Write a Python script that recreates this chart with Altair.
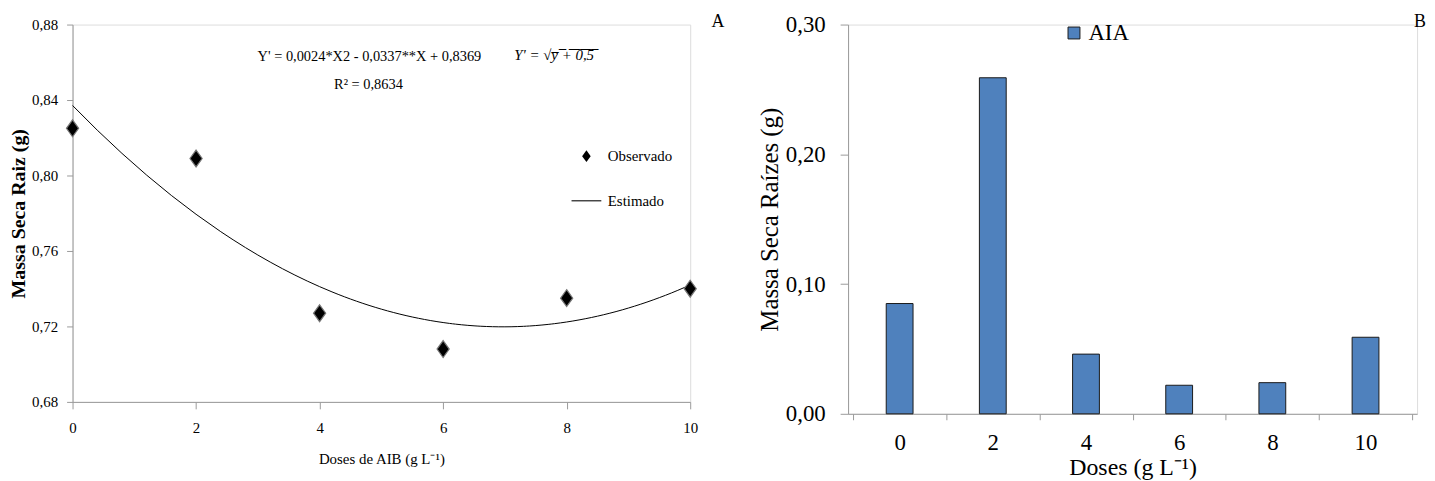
import altair as alt
import pandas as pd

FONT = "Liberation Serif"

# ---------------- Panel A (AIB) ----------------
doses_a = [0, 2, 4, 6, 8, 10]
massa_a = [0.825, 0.809, 0.727, 0.708, 0.735, 0.740]
x_ticks_a = [0, 2, 4, 6, 8, 10]
y_ticks_a = [0.68, 0.72, 0.76, 0.80, 0.84, 0.88]
legend_a = ["Observado", "Estimado"]
eq_line1 = ["Y' = 0,0024*X2 - 0,0337**X + 0,8369"]
eq_line2 = ["R² = 0,8634"]
eq_transf = ["Y' = √y̅ ̅+̅ ̅0̅,̅5̅"]

# ---------------- Panel B (AIA) ----------------
doses_b = [0, 2, 4, 6, 8, 10]
massa_b = [0.085, 0.259, 0.046, 0.022, 0.024, 0.059]
x_ticks_b = [-1, 0, 1, 2, 3, 4, 5, 6, 7, 8, 9, 10, 11]
y_ticks_b = [0.0, 0.10, 0.20, 0.30]
series_b = ["AIA"]
panel_labels = ["A", "B"]

comma2 = "replace(format(datum.value, '.2f'), '.', ',')"
DIAMOND = "M0,-1L0.72,0L0,1L-0.72,0Z"
LINE = "M-2.5,-0.09L2.5,-0.09L2.5,0.09L-2.5,0.09Z"
AXC = "#9a9a9a"

dfa = pd.DataFrame({"dose": doses_a, "massa": massa_a, "serie": legend_a[0]})

xa = alt.X(
    "dose:Q",
    scale=alt.Scale(domain=[0, 10], nice=False, zero=False),
    axis=alt.Axis(
        values=x_ticks_a, title="Doses de AIB (g L⁻¹)", grid=False,
        labelFont=FONT, labelFontSize=15, labelColor="black", labelFlush=False,
        labelOverlap=False, labelPadding=12, tickSize=7, tickColor=AXC,
        domainColor=AXC, titleFont=FONT, titleFontSize=15, titleFontWeight="normal",
        titleColor="black", titlePadding=16,
    ),
)
ya = alt.Y(
    "massa:Q",
    scale=alt.Scale(domain=[0.68, 0.88], nice=False, zero=False),
    axis=alt.Axis(
        values=y_ticks_a, labelExpr=comma2, title="Massa Seca Raiz (g)", grid=False,
        labelFont=FONT, labelFontSize=15, labelColor="black", labelPadding=9,
        tickSize=6, tickColor=AXC, domainColor=AXC, titleFont=FONT, titleFontSize=20,
        titleFontWeight="bold", titleColor="black", titlePadding=3, labelOverlap=False,
    ),
)

pts = alt.Chart(dfa).mark_point(
    filled=True, size=289, fill="black", stroke="#777777", strokeWidth=1.2, opacity=1
).encode(
    x=xa, y=ya,
    shape=alt.Shape(
        "serie:N",
        scale=alt.Scale(domain=legend_a, range=[DIAMOND, LINE]),
        legend=alt.Legend(
            orient="none", legendX=510, legendY=125, title=None, symbolSize=144,
            symbolFillColor="black", symbolStrokeColor="black", symbolStrokeWidth=0.5,
            symbolOpacity=1, labelFont=FONT, labelFontSize=15, labelColor="black",
            labelOffset=14, rowPadding=29, padding=0,
        ),
    ),
)

fit = alt.Chart(dfa).transform_regression(
    "dose", "massa", method="poly", order=2, extent=[0, 10]
).mark_line(color="black", strokeWidth=1).encode(x=xa, y=ya)

t1 = alt.Chart(pd.DataFrame({"t": eq_line1})).mark_text(
    font=FONT, fontSize=14.5, color="black"
).encode(text="t:N", x=alt.value(299), y=alt.value(33))
t2 = alt.Chart(pd.DataFrame({"t": eq_line2})).mark_text(
    font=FONT, fontSize=14.5, color="black"
).encode(text="t:N", x=alt.value(298), y=alt.value(61))
t3 = alt.Chart(pd.DataFrame({"t": eq_transf})).mark_text(
    font=FONT, fontSize=15, fontStyle="italic", color="black"
).encode(text="t:N", x=alt.value(485), y=alt.value(31))
tA = alt.Chart(pd.DataFrame({"t": panel_labels[:1]})).mark_text(
    font=FONT, fontSize=18, color="black"
).encode(text="t:N", x=alt.value(650), y=alt.value(-3))

left = alt.layer(fit, pts, t1, t2, t3, tA).properties(width=622, height=380)

# ---------------- right chart ----------------
dfb = pd.DataFrame({"dose": doses_b, "massa": massa_b, "serie": series_b[0]})

xb = alt.X(
    "dose:Q",
    scale=alt.Scale(domain=[-1, 11], nice=False, zero=False),
    axis=alt.Axis(
        values=x_ticks_b, title="Doses (g L⁻¹)", grid=False,
        labelExpr="datum.value % 2 === 0 ? datum.label : ''",
        tickOpacity={"condition": {"test": "datum.value % 2 === 0", "value": 0}, "value": 1},
        labelFont=FONT, labelFontSize=23, labelColor="black", labelFlush=False,
        labelOverlap=False, labelPadding=12, tickSize=6, tickColor=AXC,
        domainColor=AXC, titleFont=FONT, titleFontSize=24, titleFontWeight="normal",
        titleColor="black", titlePadding=1,
    ),
)
yb = alt.Y(
    "massa:Q",
    scale=alt.Scale(domain=[0, 0.30], nice=False),
    axis=alt.Axis(
        values=y_ticks_b, labelExpr=comma2, title="Massa Seca Raízes (g)", grid=False,
        labelFont=FONT, labelFontSize=23, labelColor="black", labelPadding=15,
        tickSize=8, tickColor=AXC, domainColor=AXC, titleFont=FONT, titleFontSize=25,
        titleFontWeight="normal", titleColor="black", titlePadding=3, labelOverlap=False,
    ),
)

bars = alt.Chart(dfb).mark_bar(size=27, stroke="#1a1a1a", strokeWidth=1).encode(
    x=xb, y=yb,
    color=alt.Color(
        "serie:N",
        scale=alt.Scale(domain=series_b, range=["#4F81BD"]),
        legend=alt.Legend(
            orient="none", legendX=216, legendY=-3, title=None, symbolType="square",
            symbolSize=144, symbolStrokeColor="#1a1a1a", symbolStrokeWidth=1,
            symbolFillColor="#4F81BD", symbolOpacity=1,
            labelFont=FONT, labelFontSize=23, labelColor="black", labelOffset=3, padding=0,
        ),
    ),
)
tB = alt.Chart(pd.DataFrame({"t": panel_labels[1:]})).mark_text(
    font=FONT, fontSize=18, color="black"
).encode(text="t:N", x=alt.value(576), y=alt.value(-3))

right = alt.layer(bars, tB).properties(width=573, height=392)

chart = alt.hconcat(left, right, spacing=32).resolve_scale(
    x="independent", y="independent", color="independent", shape="independent"
).properties(
    padding={"left": 0, "top": 2, "right": 0, "bottom": 0}
).configure_view(stroke=None).configure(background="white")

chart.save("out.html", embed_options={"renderer": "svg", "actions": False})
